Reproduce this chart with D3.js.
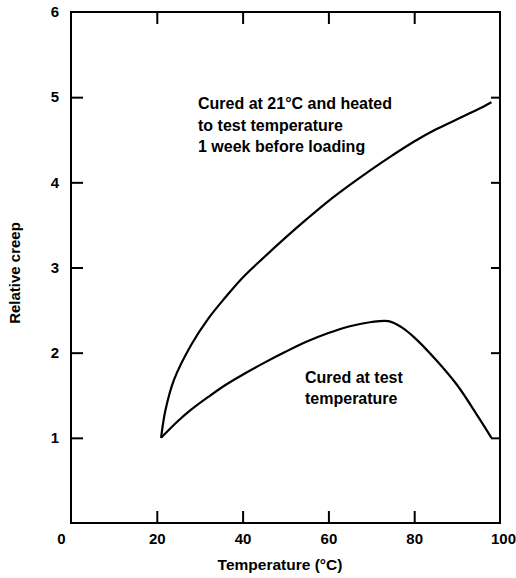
<!DOCTYPE html>
<html><head><meta charset="utf-8">
<script src="https://cdn.jsdelivr.net/npm/d3@7"></script>
<style>
html,body{margin:0;padding:0;background:#fff;}
text{font-family:"Liberation Sans",Arial,sans-serif;font-weight:bold;fill:#000;}
</style></head>
<body><svg id="c" width="516" height="578"></svg>
<script>
// Data
const xTicks = [0, 20, 40, 60, 80, 100];
const yTicks = [1, 2, 3, 4, 5, 6];
const heatedX = [21, 22, 24, 28, 32, 36, 40, 45, 50, 55, 60, 65, 70, 75, 80, 85, 90, 95, 98];
const heatedY = [1.0, 1.32, 1.68, 2.09, 2.40, 2.65, 2.88, 3.12, 3.35, 3.57, 3.78, 3.97, 4.15, 4.32, 4.48, 4.62, 4.74, 4.86, 4.94];
const curedX = [21, 25, 28, 32, 36, 40, 45, 50, 55, 60, 65, 70, 74, 77, 80, 85, 90, 95, 98];
const curedY = [1.0, 1.2, 1.33, 1.48, 1.62, 1.74, 1.88, 2.01, 2.13, 2.23, 2.31, 2.36, 2.37, 2.30, 2.18, 1.92, 1.62, 1.24, 1.0];
const heatedLabel = ["Cured at 21°C and heated", "to test temperature", "1 week before loading"];
const curedLabel = ["Cured at test", "temperature"];
const xTitle = "Temperature (°C)";
const yTitle = "Relative creep";

const svg = d3.select("#c");
const L = 71, R = 500, T = 12, B = 523;
const x = d3.scaleLinear().domain([0, 100]).range([L, R]);
const y = d3.scaleLinear().domain([0, 6]).range([B, T]);

// frame
svg.append("rect").attr("x", L).attr("y", T).attr("width", R - L).attr("height", B - T)
  .attr("fill", "none").attr("stroke", "#000").attr("stroke-width", 2);

function styleAxis(g) {
  g.select(".domain").remove();
  g.selectAll(".tick line").attr("stroke", "#000").attr("stroke-width", 2);
  g.selectAll(".tick text").attr("font-size", 15);
}
// bottom axis, ticks inward
svg.append("g").attr("transform", `translate(0,${B})`)
  .call(d3.axisBottom(x).tickValues(xTicks).tickSizeInner(-12).tickSizeOuter(0).tickPadding(10).tickFormat(d3.format("d")))
  .call(styleAxis)
  .call(g => g.selectAll(".tick text").attr("dx", d => d === 0 ? -10 : d === 100 ? 3 : 0))
  .call(g => g.selectAll(".tick line").filter(d => d === 0 || d === 100).remove());
// top axis ticks
svg.append("g").attr("transform", `translate(0,${T})`)
  .call(d3.axisTop(x).tickValues(xTicks.filter(d => d > 0 && d < 100)).tickSizeInner(-12).tickSizeOuter(0).tickFormat(""))
  .call(styleAxis);
// left axis
svg.append("g").attr("transform", `translate(${L},0)`)
  .call(d3.axisLeft(y).tickValues(yTicks).tickSizeInner(-12).tickSizeOuter(0).tickPadding(12).tickFormat(d3.format("d")))
  .call(styleAxis)
  .call(g => g.selectAll(".tick line").filter(d => d === 6).remove());
// right axis ticks
svg.append("g").attr("transform", `translate(${R},0)`)
  .call(d3.axisRight(y).tickValues(yTicks.filter(d => d < 6)).tickSizeInner(-9).tickSizeOuter(0).tickFormat(""))
  .call(styleAxis);

// curves
const line = d3.line().x(d => x(d[0])).y(d => y(d[1])).curve(d3.curveCatmullRom.alpha(0.5));
svg.append("path").datum(d3.zip(heatedX, heatedY)).attr("d", line)
  .attr("fill", "none").attr("stroke", "#000").attr("stroke-width", 2.2);
svg.append("path").datum(d3.zip(curedX, curedY)).attr("d", line)
  .attr("fill", "none").attr("stroke", "#000").attr("stroke-width", 2.2);

// annotations
svg.append("g").selectAll("text").data(heatedLabel).join("text")
  .attr("x", 198).attr("y", (d, i) => 109 + i * 21.5).attr("font-size", 16).text(d => d);
svg.append("g").selectAll("text").data(curedLabel).join("text")
  .attr("x", 305).attr("y", (d, i) => 383 + i * 21).attr("font-size", 16).text(d => d);

// axis titles
svg.append("text").attr("x", 280).attr("y", 570).attr("text-anchor", "middle").attr("font-size", 15.5).text(xTitle);
svg.append("text").attr("transform", "translate(20,273) rotate(-90)").attr("text-anchor", "middle").attr("font-size", 15).text(yTitle);
</script></body></html>
